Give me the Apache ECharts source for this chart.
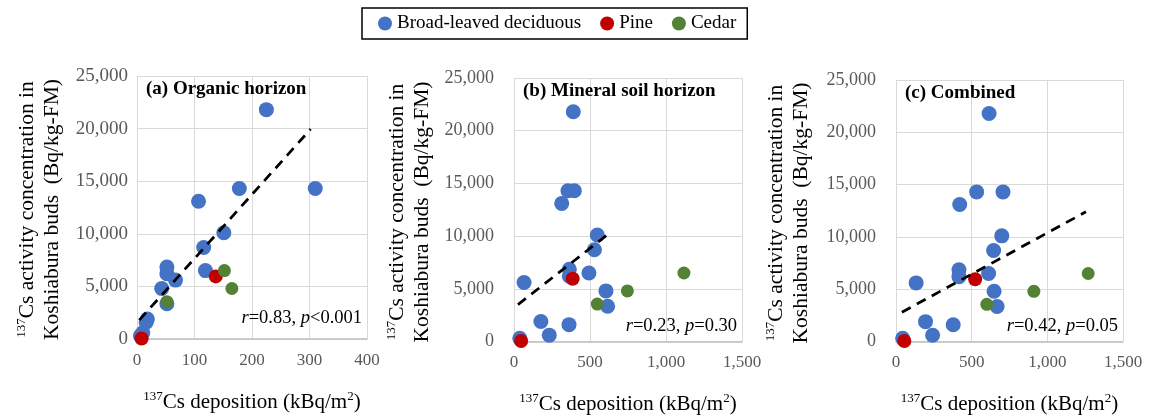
<!DOCTYPE html>
<html>
<head>
<meta charset="utf-8">
<script src="https://cdn.jsdelivr.net/npm/echarts@6/dist/echarts.min.js"></script>
<style>html,body{margin:0;padding:0;background:#fff}#c{width:1155px;height:420px}</style>
</head>
<body>
<div id="c"></div>
<script>
// ---- data ----
const seriesNames = ['Broad-leaved deciduous', 'Pine', 'Cedar'];
const blueY        = [21800, 14300, 14300, 13100, 10100, 8700, 6850, 6200, 6500, 5600, 4800, 3350, 1900, 1600, 600, 300];
const blueOrganic  = [225, 178, 310, 107, 151, 116, 52, 52, 119, 67, 43, 52, 18, 16, 10, 6];
const blueMineral  = [390, 355, 397, 314, 548, 529, 364, 364, 493, 66, 605, 616, 177, 362, 232, 38];
const blueCombined = [615, 533, 707, 421, 699, 645, 416, 416, 612, 133, 648, 668, 195, 378, 242, 44];
const pineY        = [5950, 50];
const pineOrganic  = [137, 8];
const pineMineral  = [386, 47];
const pineCombined = [523, 55];
const cedarY        = [6500, 4800, 3550];
const cedarOrganic  = [152, 165, 52];
const cedarMineral  = [1118, 746, 548];
const cedarCombined = [1270, 911, 600];
const trendOrganic  = [[4, 1800], [302, 19950]];
const trendMineral  = [[26, 3500], [625, 10250]];
const trendCombined = [[39, 2800], [1255, 12400]];
const panelTitles = ['(a) Organic horizon', '(b) Mineral soil horizon', '(c) Combined'];
const statR = ['0.83', '0.23', '0.42'];
const statP = ['<0.001', '=0.30', '=0.05'];
const xMax = [400, 1500, 1500];
const xInterval = [100, 500, 500];
const yMax = 25000, yInterval = 5000;

// ---- build ----
const FONT = "'Liberation Serif', 'Times New Roman', serif";
const COLORS = ['#4472C4', '#C00000', '#548235'];
const SIZES = [15, 14, 13];
const zip = (xs, ys) => xs.map((x, i) => [x, ys[i]]);
const fmt = v => String(v).replace(/\B(?=(\d{3})+(?!\d))/g, ',');

const grids = [
  {left: 137, top: 76, width: 230, height: 263},
  {left: 514, top: 78, width: 228, height: 264},
  {left: 896, top: 80, width: 227, height: 262}
];
const yLabelMargin = [9, 20, 20];
const yTickFont = [19, 18, 18];
const statLift = [30, 25, 25];
const xs = [
  [blueOrganic, pineOrganic, cedarOrganic, trendOrganic],
  [blueMineral, pineMineral, cedarMineral, trendMineral],
  [blueCombined, pineCombined, cedarCombined, trendCombined]
];
const ys = [blueY, pineY, cedarY];

const xAxis = [], yAxis = [], series = [], graphic = [];
grids.forEach((g, i) => {
  xAxis.push({
    gridIndex: i, type: 'value', min: 0, max: xMax[i], interval: xInterval[i],
    axisLine: {show: true, lineStyle: {color: '#BFBFBF', width: 1.5}},
    axisTick: {show: false},
    splitLine: {show: true, lineStyle: {color: '#D9D9D9', width: 1}},
    axisLabel: {color: '#595959', fontFamily: FONT, fontSize: 17, margin: 13, formatter: fmt},
    name: '{s|137}{m|Cs deposition (kBq/m}{s|2}{m|)}',
    nameLocation: 'middle', nameGap: 51,
    nameTextStyle: {rich: {
      s: {fontFamily: FONT, fontSize: 13, verticalAlign: 'top', color: '#000', lineHeight: 24},
      m: {fontFamily: FONT, fontSize: 21, color: '#000', lineHeight: 24}
    }}
  });
  yAxis.push({
    gridIndex: i, type: 'value', min: 0, max: yMax, interval: yInterval,
    axisLine: {show: true, lineStyle: {color: '#D9D9D9', width: 1}},
    axisTick: {show: false},
    splitLine: {show: true, lineStyle: {color: '#D9D9D9', width: 1}},
    axisLabel: {color: '#595959', fontFamily: FONT, fontSize: yTickFont[i], margin: yLabelMargin[i], formatter: fmt}
  });
  for (let k = 0; k < 3; k++) {
    series.push({
      name: seriesNames[k], type: 'scatter', xAxisIndex: i, yAxisIndex: i,
      symbol: 'circle', symbolSize: SIZES[k],
      itemStyle: {color: COLORS[k], opacity: 1},
      data: zip(xs[i][k], ys[k]), z: 2 + k
    });
  }
  series.push({
    name: 'trend', type: 'line', xAxisIndex: i, yAxisIndex: i,
    data: xs[i][3], symbol: 'none', z: 10, silent: true,
    lineStyle: {color: '#000', width: 2.75, type: [10, 7]}
  });
  // panel title
  graphic.push({
    type: 'text', left: g.left + 9, top: g.top + 4, z: 20,
    style: {text: panelTitles[i], font: `bold 19px ${FONT}`, fill: '#000'}
  });
  // statistic
  graphic.push({
    type: 'text', right: 1155 - (g.left + g.width) + 5, top: g.top + g.height - statLift[i], z: 20,
    style: {
      text: `{i|r}{n|=${statR[i]}, }{i|p}{n|${statP[i]}}`,
      rich: {
        i: {font: `italic 18.5px ${FONT}`, fill: '#000'},
        n: {font: `18.5px ${FONT}`, fill: '#000'}
      }
    }
  });
});

const yNameX = [40, 410, 789];
yNameX.forEach((cx, i) => {
  const g = grids[i];
  graphic.push({
    type: 'text', x: cx, y: g.top + g.height / 2 + 2, rotation: Math.PI / 2, z: 20,
    style: {
      text: '{s|137}{m|Cs activity concentration in}\n{m|Koshiabura buds  (Bq/kg-FM)}',
      align: 'center', verticalAlign: 'middle',
      rich: {
        s: {fontFamily: FONT, fontSize: 13, verticalAlign: 'top', fill: '#000', lineHeight: 25},
        m: {fontFamily: FONT, fontSize: 21.5, fill: '#000', lineHeight: 25}
      }
    }
  });
});

const chart = echarts.init(document.getElementById('c'), null, {renderer: 'canvas'});
chart.setOption({
  animation: false,
  backgroundColor: '#fff',
  legend: {
    data: seriesNames, left: 362, top: 8, icon: 'circle',
    itemWidth: 14, itemHeight: 14, itemGap: 19,
    padding: [6, 11, 6, 16],
    borderColor: '#000', borderWidth: 1.5,
    textStyle: {fontFamily: FONT, fontSize: 19, color: '#000'}
  },
  grid: grids,
  xAxis, yAxis, series, graphic
});
</script>
</body>
</html>
